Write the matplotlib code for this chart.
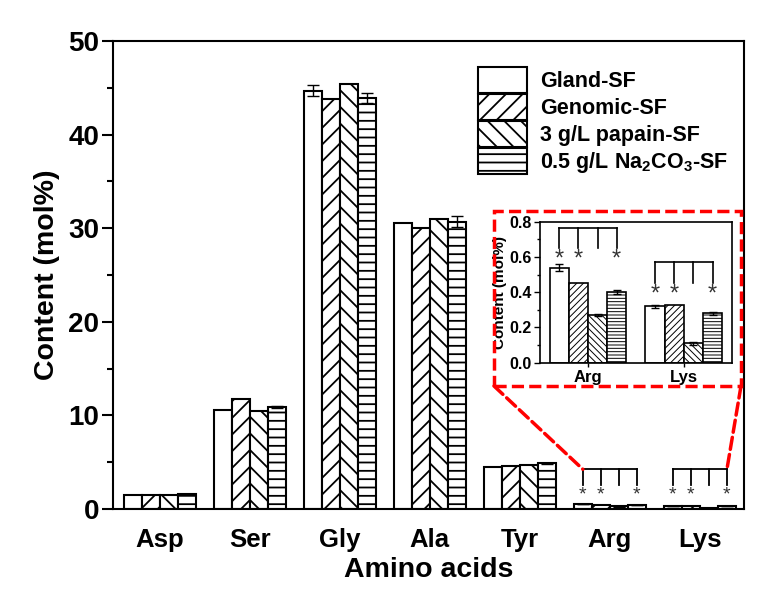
import numpy as np
import matplotlib
matplotlib.use("Agg")
import matplotlib.pyplot as plt
from matplotlib.patches import Rectangle, ConnectionPatch
from matplotlib.ticker import MultipleLocator, FormatStrFormatter

plt.rcParams['font.family'] = ['Liberation Sans', 'DejaVu Sans']
plt.rcParams['font.weight'] = 'bold'
plt.rcParams['mathtext.fontset'] = 'custom'
plt.rcParams['mathtext.rm'] = 'Liberation Sans:bold'
plt.rcParams['mathtext.bf'] = 'Liberation Sans:bold'
plt.rcParams['hatch.linewidth'] = 1.3

# data (mol%)
amino_acids = ["Asp", "Ser", "Gly", "Ala", "Tyr", "Arg", "Lys"]
series = ["Gland-SF", "Genomic-SF", "3 g/L papain-SF", "0.5 g/L Na$_2$CO$_3$-SF"]
gland = [1.5, 10.6, 44.7, 30.6, 4.5, 0.54, 0.32]
genomic = [1.5, 11.8, 43.8, 30.0, 4.6, 0.45, 0.33]
papain = [1.5, 10.5, 45.4, 31.0, 4.7, 0.27, 0.11]
na2co3 = [1.6, 10.9, 43.9, 30.7, 4.9, 0.40, 0.28]
gland_err = [0.0, 0.0, 0.6, 0.0, 0.0, 0.02, 0.01]
genomic_err = [0.0, 0.0, 0.0, 0.0, 0.0, 0.0, 0.0]
papain_err = [0.0, 0.0, 0.0, 0.0, 0.0, 0.007, 0.007]
na2co3_err = [0.05, 0.1, 0.5, 0.6, 0.05, 0.01, 0.008]

# inset only shows Arg and Lys
inset_labels = ["Arg", "Lys"]

hatches = ["", "//", "\\\\", "--"]
inset_hatches = ["", "/////", "\\\\\\\\\\", "-----"]
values = [gland, genomic, papain, na2co3]
errors = [gland_err, genomic_err, papain_err, na2co3_err]
offsets = [-0.3, -0.1, 0.1, 0.3]
width = 0.2

fig = plt.figure(figsize=(7.76, 6.02), dpi=100)
ax = fig.add_axes([0.1456, 0.1545, 0.8132, 0.7774])

x = np.arange(len(amino_acids))
for vals, errs, hatch, off, name in zip(values, errors, hatches, offsets, series):
    ax.bar(x + off, vals, width, color="white", edgecolor="black",
           linewidth=1.5, hatch=hatch, label=name)
    e = np.array(errs)
    m = e > 0
    ax.errorbar((x + off)[m], np.array(vals)[m], yerr=e[m], fmt="none",
                ecolor="black", elinewidth=1.0, capsize=4, capthick=1.0)

ax.set_xlim(-0.52, 6.49)
ax.set_ylim(0, 50)
ax.set_xticks(x)
ax.set_xticklabels(amino_acids, fontsize=18.5, fontweight="bold")
ax.tick_params(axis="x", length=0, pad=14)
ax.yaxis.set_major_locator(MultipleLocator(10))
ax.yaxis.set_minor_locator(MultipleLocator(5))
ax.tick_params(axis="y", which="major", direction="out", length=8, width=1.5,
               labelsize=20, pad=2)
ax.tick_params(axis="y", which="minor", direction="out", length=4, width=1.5)
for lab in ax.get_yticklabels():
    lab.set_fontweight("bold")
for sp in ax.spines.values():
    sp.set_linewidth(1.5)
ax.set_xlabel("Amino acids", fontsize=20.5, fontweight="bold", labelpad=3)
ax.set_ylabel("Content (mol%)", fontsize=20.5, fontweight="bold", labelpad=6)

# significance brackets on Arg and Lys in main chart
for gi in [5, 6]:
    xs = gi + np.array(offsets)
    ax.plot([xs[0], xs[-1]], [4.24, 4.24], color="black", lw=1.3)
    for k, xv in enumerate(xs):
        ax.plot([xv, xv], [4.24, 2.56], color="black", lw=1.3)
        if k != 2:
            ax.text(xv, 1.5, "*", ha="center", va="center", fontsize=14,
                    color="#333333", fontweight="normal")

leg = ax.legend(loc="upper left", bbox_to_anchor=(478 / 776, 1 - 67 / 602),
                bbox_transform=fig.transFigure, frameon=False, fontsize=15.5,
                handlelength=2.28, handleheight=1.48, labelspacing=0.05,
                handletextpad=0.6, borderpad=0, borderaxespad=0)
for t in leg.get_texts():
    t.set_fontweight("bold")

# inset
ia = fig.add_axes([0.6959, 0.3975, 0.247, 0.2342])
xi = np.arange(len(inset_labels))
for vals, errs, hatch, off in zip(values, errors, inset_hatches, offsets):
    b = ia.bar(xi + off, vals[5:], width, color="white", edgecolor="black",
               linewidth=1.2, hatch=hatch)
    for p in b:
        if hasattr(p, "set_hatch_linewidth"):
            p.set_hatch_linewidth(0.7)
    e = np.array(errs[5:])
    m = e > 0
    ia.errorbar((xi + off)[m], np.array(vals[5:])[m], yerr=e[m], fmt="none",
                ecolor="black", elinewidth=1.0, capsize=3, capthick=1.0)
ia.set_xlim(-0.5, 1.5)
ia.set_ylim(0, 0.8)
ia.set_xticks(xi)
ia.set_xticklabels(inset_labels, fontsize=12, fontweight="bold")
ia.tick_params(axis="x", direction="out", length=3, width=1.0, pad=2)
ia.yaxis.set_major_locator(MultipleLocator(0.2))
ia.yaxis.set_minor_locator(MultipleLocator(0.1))
ia.yaxis.set_major_formatter(FormatStrFormatter("%.1f"))
ia.tick_params(axis="y", which="major", direction="out", length=4, width=1.0,
               labelsize=11.5, pad=2)
ia.tick_params(axis="y", which="minor", direction="out", length=2, width=1.0)
for lab in ia.get_yticklabels():
    lab.set_fontweight("bold")
for sp in ia.spines.values():
    sp.set_linewidth(1.2)
ia.set_ylabel("Content (mol%)", fontsize=11, fontweight="bold", labelpad=2)

inset_brackets = [(0.764, 0.652, 0.585), (0.574, 0.455, 0.385)]
for gi, (top, low, star_y) in zip(xi, inset_brackets):
    xs = gi + np.array(offsets)
    ia.plot([xs[0], xs[-1]], [top, top], color="black", lw=1.2)
    for k, xv in enumerate(xs):
        ia.plot([xv, xv], [top, low], color="black", lw=1.2)
        if k != 2:
            ia.text(xv, star_y, "*", ha="center", va="center", fontsize=17,
                    color="#333333", fontweight="normal")

# red dashed zoom box and connectors
dash = (0, (3.5, 1.5))
x0, y0, x1, y1 = 494 / 776, 1 - 386 / 602, 741 / 776, 1 - 211 / 602
fig.patches.append(Rectangle((x0, y0), x1 - x0, y1 - y0, transform=fig.transFigure,
                             fill=False, edgecolor="red", lw=2.5, linestyle=dash))
for fx, dx in [(x0, 5 - 0.3), (x1, 6 + 0.3)]:
    con = ConnectionPatch(xyA=(fx, y0), coordsA=fig.transFigure,
                          xyB=(dx, 4.24), coordsB=ax.transData,
                          color="red", lw=2.5, linestyle=dash)
    fig.add_artist(con)

fig.savefig("out.png", dpi=100)
